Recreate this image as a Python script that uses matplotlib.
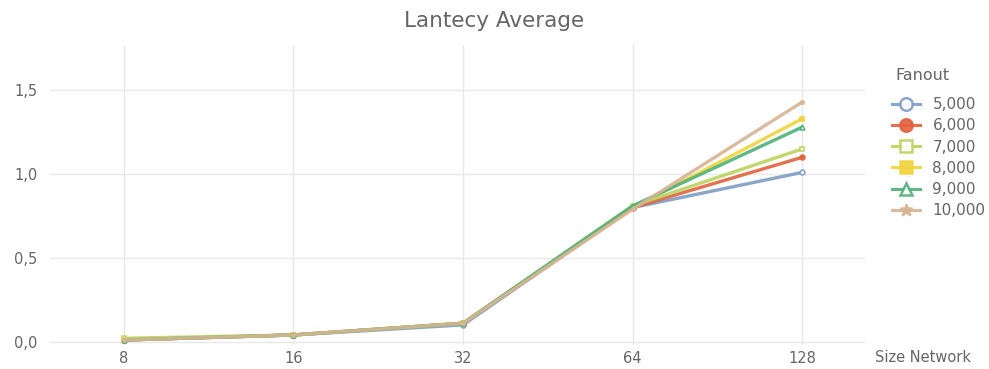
import matplotlib
matplotlib.use("Agg")
import matplotlib.pyplot as plt
from matplotlib.ticker import FuncFormatter
from matplotlib.lines import Line2D

# Network sizes (categorical x axis) and average latency per fanout setting
sizes = ["8", "16", "32", "64", "128"]
fanouts = ["5,000", "6,000", "7,000", "8,000", "9,000", "10,000"]
lat_5000 = [0.01, 0.04, 0.10, 0.80, 1.01]
lat_6000 = [0.01, 0.04, 0.11, 0.80, 1.10]
lat_7000 = [0.02, 0.04, 0.11, 0.81, 1.15]
lat_8000 = [0.01, 0.04, 0.11, 0.80, 1.33]
lat_9000 = [0.01, 0.04, 0.11, 0.81, 1.28]
lat_10000 = [0.01, 0.04, 0.11, 0.79, 1.43]
series = [lat_5000, lat_6000, lat_7000, lat_8000, lat_9000, lat_10000]

colors = ["#7f9cc4", "#e2623f", "#b9d45c", "#f0d33c", "#4fb178", "#d8b494"]
markers = ["o", "o", "s", "s", "^", "*"]
filled = [False, True, False, True, False, True]

plt.rcParams["font.family"] = ["DejaVu Sans"]
text_col = "#656565"

fig = plt.figure(figsize=(9.89, 3.69), dpi=100)
ax = fig.add_axes([0.0506, 0.065, 0.824, 0.813])

xs = list(range(len(sizes)))
for vals, col, mk, fl, name in zip(series, colors, markers, filled, fanouts):
    ax.plot(xs, vals, color=col, lw=2.4, marker=mk, ms=3.5,
            markerfacecolor=col if fl else "white",
            markeredgecolor=col, markeredgewidth=1.2,
            alpha=0.9, label=name, solid_capstyle="round")

ax.set_xlim(-0.435, 4.37)
ax.set_ylim(-0.02, 1.77)
ax.set_xticks(xs)
ax.set_xticklabels(sizes)
ax.set_yticks([0.0, 0.5, 1.0, 1.5])
ax.yaxis.set_major_formatter(FuncFormatter(lambda v, p: f"{v:.1f}".replace(".", ",")))
ax.grid(True, color="#e8e8e8", lw=1)
ax.set_axisbelow(True)
for s in ax.spines.values():
    s.set_visible(False)
ax.tick_params(length=0, colors=text_col, labelsize=10.5)
ax.tick_params(axis="y", pad=9)
ax.tick_params(axis="x", pad=4)

fig.text(0.5, 1 - 21 / 369, "Lantecy Average", fontsize=15.5, color=text_col,
         ha="center", va="center")
fig.text(875 / 989, 1 - 357 / 369, "Size Network", fontsize=10.5, color=text_col,
         ha="left", va="center")
fig.text(895 / 989, 1 - 75 / 369, "Fanout", fontsize=11.5, color=text_col,
         ha="left", va="center")

# Legend with larger markers
leg_handles = [Line2D([0], [0], color=c, lw=2.2, marker=m, ms=9,
                      markerfacecolor=(c if f else "white"), markeredgecolor=c,
                      markeredgewidth=1.8, alpha=0.9)
               for c, m, f in zip(colors, markers, filled)]
leg = fig.legend(leg_handles, fanouts, loc="upper left",
                 bbox_to_anchor=(892 / 989, 1 - 97 / 369), frameon=False,
                 fontsize=11, handlelength=1.8, handletextpad=0.85,
                 labelspacing=0.41, borderaxespad=0, borderpad=0)
for t in leg.get_texts():
    t.set_color(text_col)

fig.savefig("out.png", dpi=100)
